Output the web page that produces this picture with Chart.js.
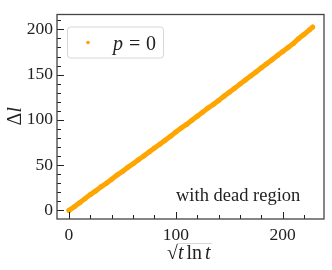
<!DOCTYPE html>
<html>
<head>
<meta charset="utf-8">
<script src="https://cdn.jsdelivr.net/npm/chart.js@4"></script>
<style>
  html, body { margin: 0; padding: 0; background: #fff; }
  #wrap { width: 332px; height: 270px; }
</style>
</head>
<body>
<div id="wrap"><canvas id="chart" width="332" height="270"></canvas></div>
<script>
// values
const xValues = [0, 5, 10, 15, 20, 25, 30, 35, 40, 45, 50, 55, 60, 65, 70, 75, 80, 85, 90, 95,
    100, 105, 110, 115, 120, 125, 130, 135, 140, 145, 150, 155, 160, 165, 170, 175, 180, 185,
    190, 195, 200, 205, 210, 215, 220, 225, 228];
const deltaL = [0, 4, 8.5, 13, 17.5, 21.5, 26, 30, 34.5, 39, 43, 47.5, 51.5, 56, 60, 64.5, 69,
    73, 77.5, 82, 86.5, 91, 95, 99.5, 104, 108.5, 113, 117, 121.5, 126, 130.5, 135, 139.5, 144,
    148.5, 153, 157.5, 162, 166.5, 171, 175.5, 180, 184.5, 190, 194.5, 199.5, 202.5];
const xTicks = [0, 100, 200];
const yTicks = [0, 50, 100, 150, 200];
const seriesLabel = 'p = 0';
const note = 'with dead region';

const orange = '#FFA500';
const ink = '#222';
const serif = '"Liberation Serif", "DejaVu Serif", serif';

const points = xValues.map((x, i) => ({ x: x, y: deltaL[i] }));

// frame, inward ticks, legend, axis titles and note
const decorations = {
    id: 'decorations',
    afterDraw(chart) {
        const ctx = chart.ctx;
        const area = chart.chartArea;
        const xs = chart.scales.x;
        const ys = chart.scales.y;
        ctx.save();

        // ticks (inward)
        ctx.strokeStyle = ink;
        ctx.lineWidth = 1;
        for (let v = -20; v <= 240; v += 20) {
            const px = Math.round(xs.getPixelForValue(v)) + 0.5;
            if (px < area.left || px > area.right) continue;
            const len = v % 100 === 0 ? 7 : 4;
            ctx.beginPath();
            ctx.moveTo(px, area.bottom);
            ctx.lineTo(px, area.bottom - len);
            ctx.stroke();
        }
        for (let v = -10; v <= 220; v += 10) {
            const py = Math.round(ys.getPixelForValue(v)) + 0.5;
            if (py < area.top || py > area.bottom) continue;
            const len = v % 50 === 0 ? 7 : 4;
            ctx.beginPath();
            ctx.moveTo(area.left, py);
            ctx.lineTo(area.left + len, py);
            ctx.stroke();
        }

        // frame
        ctx.strokeStyle = '#444';
        ctx.lineWidth = 1.3;
        ctx.strokeRect(area.left, area.top, area.right - area.left, area.bottom - area.top);

        // legend
        const lx = area.left + 10, ly = area.top + 12, lw = 96, lh = 31;
        ctx.beginPath();
        ctx.roundRect(lx + 0.5, ly + 0.5, lw, lh, 3);
        ctx.fillStyle = 'rgba(255,255,255,0.8)';
        ctx.fill();
        ctx.strokeStyle = '#d6d6d6';
        ctx.lineWidth = 1;
        ctx.stroke();
        ctx.fillStyle = orange;
        ctx.beginPath();
        ctx.arc(lx + 21, ly + 16, 1.8, 0, Math.PI * 2);
        ctx.fill();
        ctx.fillStyle = ink;
        ctx.textBaseline = 'alphabetic';
        ctx.textAlign = 'left';
        ctx.font = 'italic 20px ' + serif;
        ctx.fillText('p', lx + 46, ly + 23);
        ctx.font = '20px ' + serif;
        ctx.fillText('=', lx + 62, ly + 23);
        ctx.fillText('0', lx + 79, ly + 23);

        // note
        ctx.font = '18.5px ' + serif;
        ctx.fillText(note, 176, 201);

        // x title: sqrt(t ln t)
        ctx.font = '20px ' + serif;
        const rad = '\u221A';
        const rw = ctx.measureText(rad).width;
        let tx = 167;
        const base = 259;
        ctx.fillText(rad, tx, base);
        tx += rw;
        const startBar = tx;
        ctx.font = 'italic 20px ' + serif;
        ctx.fillText('t', tx, base);
        tx += ctx.measureText('t').width + 3;
        ctx.font = '20px ' + serif;
        ctx.fillText('ln', tx, base);
        tx += ctx.measureText('ln').width + 3;
        ctx.font = 'italic 20px ' + serif;
        ctx.fillText('t', tx, base);
        tx += ctx.measureText('t').width;
        ctx.lineWidth = 1;
        ctx.beginPath();
        ctx.moveTo(startBar - 1, 243.5);
        ctx.lineTo(tx + 1, 243.5);
        ctx.stroke();

        // y title
        ctx.translate(21, 116);
        ctx.rotate(-Math.PI / 2);
        ctx.textAlign = 'left';
        ctx.font = '20px ' + serif;
        const dw = ctx.measureText('\u0394').width;
        ctx.fillText('\u0394', -(dw + 6) / 2, 0);
        ctx.font = 'italic 20px ' + serif;
        ctx.fillText('l', -(dw + 6) / 2 + dw, 0);

        ctx.restore();
    }
};

new Chart(document.getElementById('chart'), {
    type: 'scatter',
    data: {
        datasets: [{
            label: seriesLabel,
            data: points,
            showLine: true,
            borderColor: orange,
            borderWidth: 5,
            borderCapStyle: 'round',
            backgroundColor: orange,
            pointRadius: 2.5,
            pointBorderWidth: 0,
            pointHoverRadius: 2.5
        }]
    },
    options: {
        responsive: false,
        animation: false,
        layout: { padding: { top: 5, right: 8, left: 0, bottom: 0 } },
        plugins: {
            legend: { display: false },
            tooltip: { enabled: false }
        },
        scales: {
            x: {
                type: 'linear',
                min: -11.2,
                max: 238.6,
                grid: { display: false, drawTicks: false },
                border: { display: false },
                afterBuildTicks: scale => { scale.ticks = xTicks.map(v => ({ value: v })); },
                afterFit: scale => { scale.height = 51; },
                ticks: {
                    padding: 6,
                    color: ink,
                    font: { family: serif, size: 17.5 }
                }
            },
            y: {
                type: 'linear',
                min: -9.5,
                max: 216.4,
                grid: { display: false, drawTicks: false },
                border: { display: false },
                afterBuildTicks: scale => { scale.ticks = yTicks.map(v => ({ value: v })); },
                afterFit: scale => { scale.width = 57; },
                ticks: {
                    padding: 4,
                    color: ink,
                    font: { family: serif, size: 17.5 }
                }
            }
        }
    },
    plugins: [decorations]
});
</script>
</body>
</html>
